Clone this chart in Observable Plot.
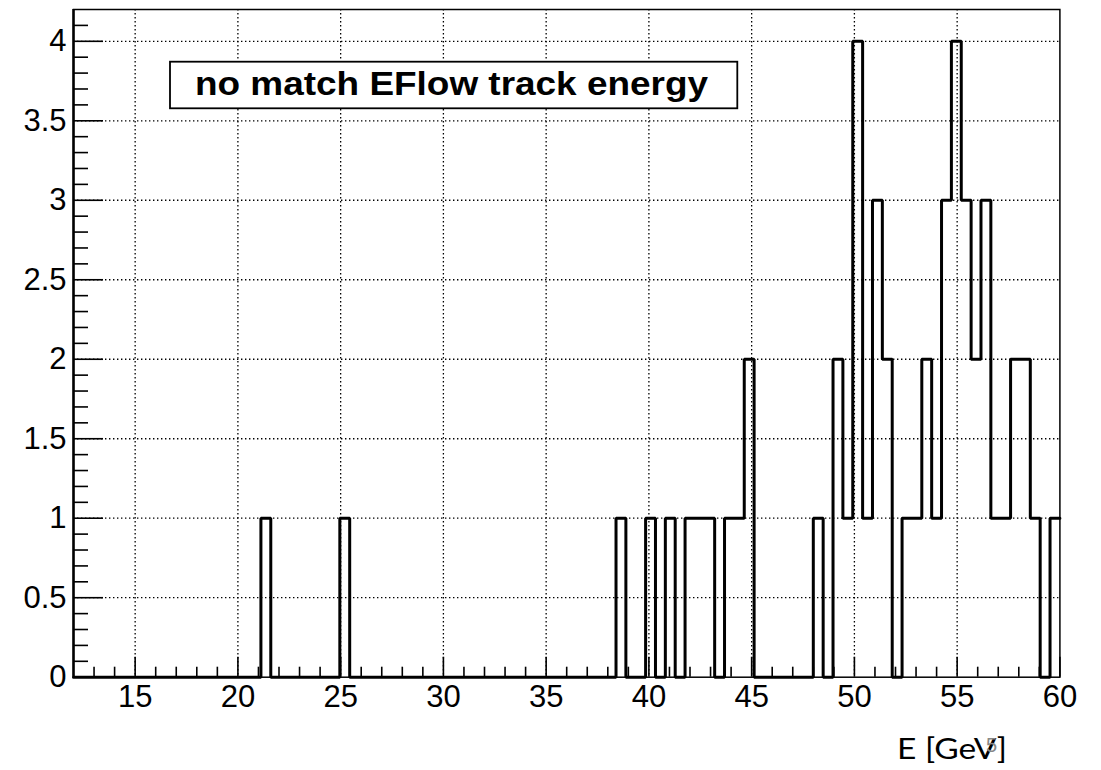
<!DOCTYPE html>
<html><head><meta charset="utf-8">
<script src="https://cdn.jsdelivr.net/npm/d3@7"></script>
<script src="https://cdn.jsdelivr.net/npm/@observablehq/plot@0.6"></script>
<style>
html,body{margin:0;padding:0;background:#fff;}
#wrap{position:relative;width:1101px;height:770px;}
#overlay{position:absolute;left:0;top:0;pointer-events:none;}
</style></head><body><div id="wrap"></div>
<script>
// ---- data ----
const title = "no match EFlow track energy";
const xLabel = "E [GeV]";
const pageMark = "5";
const xMin = 12, xMax = 60, nBins = 100;
// counts per bin (100 bins of width 0.48 from 12 to 60)
const counts = [
  0,0,0,0,0,0,0,0,0,0, 0,0,0,0,0,0,0,0,0,1,
  0,0,0,0,0,0,0,1,0,0, 0,0,0,0,0,0,0,0,0,0,
  0,0,0,0,0,0,0,0,0,0, 0,0,0,0,0,1,0,0,1,0,
  1,0,1,1,1,0,1,1,2,0, 0,0,0,0,0,1,0,2,1,4,
  1,3,2,0,1,1,2,1,3,4, 3,2,3,1,1,2,2,1,0,1
];
const xTicksMajor = [15, 20, 25, 30, 35, 40, 45, 50, 55, 60];
const yTicksMajor = [0, 0.5, 1, 1.5, 2, 2.5, 3, 3.5, 4];
const yMax = 4.2;

// ---- layout ----
const W = 1101, H = 770, mL = 73, mR = 41.6, mT = 9, mB = 93.3;
const plotW = W - mL - mR, plotH = H - mT - mB;

const xTicksMinor = d3.range(13, 60, 1).filter(v => v % 5 !== 0);
const yTicksMinor = d3.range(1, 42).map(i => i / 10).filter((v, i) => (i + 1) % 5 !== 0);

const binW = (xMax - xMin) / nBins;
const bins = counts.map((c, k) => ({x: xMin + k * binW, y: c}));
const stepPts = [...bins, {x: xMax, y: counts[nBins - 1]}];

const dotted = {stroke: "black", strokeOpacity: 1, strokeWidth: 1.3, strokeDasharray: "1.4,2.6"};

const chart = Plot.plot({
  width: W, height: H,
  marginLeft: mL, marginRight: mR, marginTop: mT, marginBottom: mB,
  x: {domain: [xMin, xMax]},
  y: {domain: [0, yMax]},
  style: {fontFamily: "'Liberation Sans', Arial, sans-serif", background: "white", color: "black"},
  marks: [
    Plot.gridX(xTicksMajor.filter(v => v < xMax), dotted),
    Plot.gridY(yTicksMajor.filter(v => v > 0), dotted),
    Plot.tickX(xTicksMinor, {insetTop: plotH - 10, stroke: "black", strokeWidth: 1.6}),
    Plot.tickX(xTicksMajor, {insetTop: plotH - 20, stroke: "black", strokeWidth: 1.6}),
    Plot.tickY(yTicksMinor, {insetRight: plotW - 15, stroke: "black", strokeWidth: 1.6}),
    Plot.tickY(yTicksMajor, {insetRight: plotW - 30, stroke: "black", strokeWidth: 1.6}),
    Plot.axisX(xTicksMajor, {tickSize: 0, tickPadding: 8, fontSize: 31, label: null}),
    Plot.axisY(yTicksMajor, {tickSize: 0, tickPadding: 7, fontSize: 31, label: null, tickFormat: d => String(d)}),
    Plot.frame({stroke: "black", strokeWidth: 1.5}),
    Plot.ruleX([xMin], {stroke: "black", strokeWidth: 2.5}),
    Plot.line(stepPts, {x: "x", y: "y", curve: "step-after", stroke: "black", strokeWidth: 3, strokeLinejoin: "miter"})
  ]
});
document.getElementById("wrap").appendChild(chart);

// ---- overlay: title box and x label ----
const ns = "http://www.w3.org/2000/svg";
const ov = document.createElementNS(ns, "svg");
ov.setAttribute("id", "overlay");
ov.setAttribute("width", W);
ov.setAttribute("height", H);
function el(tag, attrs, text) {
  const e = document.createElementNS(ns, tag);
  for (const k in attrs) e.setAttribute(k, attrs[k]);
  if (text != null) e.textContent = text;
  ov.appendChild(e);
  return e;
}
el("rect", {x: 170, y: 61.7, width: 567.3, height: 46.6, fill: "white", stroke: "black", "stroke-width": 1.8});
el("text", {x: 195, y: 95, "font-family": "'Liberation Sans', Arial, sans-serif", "font-weight": "bold",
  "font-size": 33, textLength: 513, lengthAdjust: "spacingAndGlyphs", fill: "black"}, title);
el("text", {x: 897, y: 759, "font-family": "Lato, 'Open Sans', sans-serif", "font-size": 28,
  textLength: 110, lengthAdjust: "spacingAndGlyphs", fill: "black"}, xLabel);
el("text", {x: 986, y: 752, "font-family": "'Liberation Sans', Arial, sans-serif", "font-size": 20,
  fill: "#888"}, pageMark);
document.getElementById("wrap").appendChild(ov);
</script>
</body></html>
